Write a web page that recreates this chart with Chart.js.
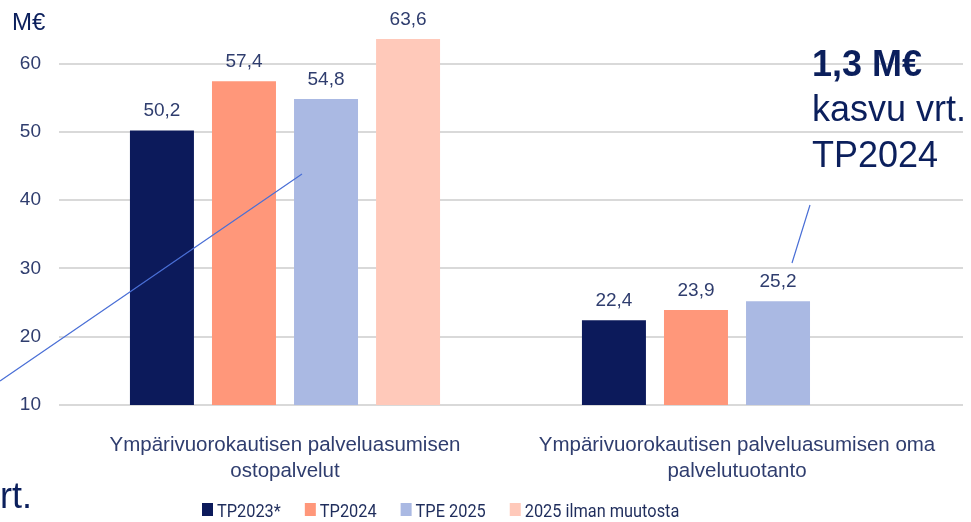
<!DOCTYPE html>
<html>
<head>
<meta charset="utf-8">
<script src="https://cdn.jsdelivr.net/npm/chart.js@4.4.1/dist/chart.umd.min.js"></script>
<style>
html,body{margin:0;padding:0;background:#fff;}
#wrap{width:971px;height:522px;position:relative;}
</style>
</head>
<body>
<div id="wrap"><canvas id="c" width="971" height="522"></canvas></div>
<script>
const categories = [
  ["Ympärivuorokautisen palveluasumisen", "ostopalvelut"],
  ["Ympärivuorokautisen palveluasumisen oma", "palvelutuotanto"]
];
const seriesNames = ["TP2023*", "TP2024", "TPE 2025", "2025 ilman muutosta"];
const tp2023 = [50.2, 22.4];
const tp2024 = [57.4, 23.9];
const tpe2025 = [54.8, 25.2];
const ilmanMuutosta = [63.6, null];
const seriesColors = ["#0C1A5B", "#FF977A", "#AAB9E3", "#FFC9BA"];
const yTicks = [10, 20, 30, 40, 50, 60];
const unitLabel = "M€";
const noteBold = "1,3 M€";
const noteLines = ["kasvu vrt.", "TP2024"];
const cutNote = "vrt.";

const TEXT = "#2F3D6E";
const NAVY = "#0B1F5C";
const fmt = v => v.toFixed(1).replace(".", ",");

const overlay = {
  id: "overlay",
  afterDatasetsDraw(chart) {
    const ctx = chart.ctx;
    ctx.save();
    ctx.fillStyle = TEXT;
    ctx.font = "19px 'Liberation Sans', Arial, sans-serif";
    ctx.textAlign = "center";
    ctx.textBaseline = "alphabetic";
    chart.data.datasets.forEach((ds, di) => {
      const meta = chart.getDatasetMeta(di);
      meta.data.forEach((bar, i) => {
        const v = ds.data[i];
        if (v == null) return;
        ctx.fillText(fmt(v), bar.x, bar.y - 14);
      });
    });
    ctx.restore();
  },
  afterDraw(chart) {
    const ctx = chart.ctx;
    ctx.save();
    ctx.fillStyle = NAVY;
    ctx.font = "24px 'Liberation Sans', Arial, sans-serif";
    ctx.textAlign = "left";
    ctx.textBaseline = "alphabetic";
    ctx.fillText(unitLabel, 12, 30);

    ctx.strokeStyle = "#4A6FD6";
    ctx.lineWidth = 1.2;
    ctx.beginPath();
    ctx.moveTo(0, 381);
    ctx.lineTo(302, 174);
    ctx.moveTo(810, 205);
    ctx.lineTo(792, 263);
    ctx.stroke();

    ctx.fillStyle = NAVY;
    ctx.font = "bold 36px 'Liberation Sans', Arial, sans-serif";
    ctx.fillText(noteBold, 812, 76);
    ctx.font = "36px 'Liberation Sans', Arial, sans-serif";
    ctx.fillText(noteLines[0], 812, 121);
    ctx.fillText(noteLines[1], 812, 167);
    ctx.fillText(cutNote, -18, 508);

    // legend (narrow text)
    const sx = 0.86;
    ctx.font = "19px Roboto, 'Liberation Sans', sans-serif";
    let x = 202;
    chart.data.datasets.forEach(ds => {
      ctx.fillStyle = ds.backgroundColor;
      ctx.fillRect(x, 503, 11, 13);
      ctx.fillStyle = "#1F2D5C";
      const w = ctx.measureText(ds.label).width * sx;
      ctx.save();
      ctx.translate(x + 15, 517);
      ctx.scale(sx, 1);
      ctx.fillText(ds.label, 0, 0);
      ctx.restore();
      x += 15 + w + 24;
    });
    ctx.restore();
  }
};

const seriesData = [tp2023, tp2024, tpe2025, ilmanMuutosta];
new Chart(document.getElementById("c"), {
  type: "bar",
  data: {
    labels: categories,
    datasets: seriesNames.map((n, i) => ({
      label: n,
      data: seriesData[i],
      backgroundColor: seriesColors[i],
      borderWidth: 0,
      categoryPercentage: 0.726,
      barPercentage: 0.78
    }))
  },
  options: {
    responsive: false,
    animation: false,
    devicePixelRatio: 1,
    layout: { padding: { top: 29, right: 8, left: 0, bottom: 0 } },
    plugins: { legend: { display: false }, tooltip: { enabled: false } },
    scales: {
      x: {
        grid: { display: false },
        border: { display: false },
        ticks: {
          color: TEXT,
          padding: 19,
          font: { family: "'Liberation Sans', Arial, sans-serif", size: 20.5, lineHeight: 1.27 },
          maxRotation: 0, autoSkip: false
        },
        afterFit(s) { s.height = 117; }
      },
      y: {
        min: 10, max: 65,
        border: { display: false },
        grid: { color: "#D9D9D9", lineWidth: 2, drawTicks: false },
        ticks: {
          color: TEXT,
          padding: 18,
          font: { family: "'Liberation Sans', Arial, sans-serif", size: 19 },
          stepSize: 10
        },
        afterBuildTicks(s) { s.ticks = yTicks.map(v => ({ value: v })); },
        afterFit(s) { s.width = 59; }
      }
    }
  },
  plugins: [overlay]
});
</script>
</body>
</html>
